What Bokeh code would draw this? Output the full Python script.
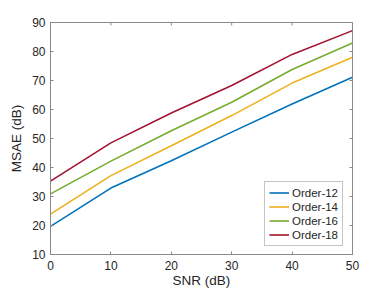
import math
from bokeh.plotting import figure
from bokeh.models import Range1d, FixedTicker, Legend, LegendItem
from bokeh.embed import file_html
from bokeh.resources import INLINE

snr = [0, 10, 20, 30, 40, 50]
order12 = [19.7, 32.9, 42.3, 52.2, 61.9, 71.1]
order14 = [23.9, 37.2, 47.5, 57.9, 69.1, 78.0]
order16 = [30.9, 42.2, 52.7, 62.5, 73.8, 82.9]
order18 = [35.3, 48.5, 58.8, 68.3, 79.0, 87.2]
labels = ["Order-12", "Order-14", "Order-16", "Order-18"]
colors = ["#0072BD", "#EDB120", "#77AC30", "#A2142F"]
x_ticks = [0, 10, 20, 30, 40, 50]
y_ticks = [10, 20, 30, 40, 50, 60, 70, 80, 90]

FONT = "Liberation Sans"
AX = "#8a8a8a"
TXT = "#262626"

xmin, xmax = 0, 50
ymin, ymax = 10, 90

p = figure(width=381, height=290, output_backend="svg", toolbar_location=None,
           x_range=Range1d(xmin, xmax), y_range=Range1d(ymin, ymax),
           min_border_left=50, min_border_right=29, min_border_top=22, min_border_bottom=36,
           x_axis_label="SNR (dB)", y_axis_label="MSAE (dB)")
p.grid.visible = False
p.outline_line_color = AX
p.background_fill_color = "white"
p.border_fill_color = "white"

p.xaxis.ticker = FixedTicker(ticks=x_ticks)
p.yaxis.ticker = FixedTicker(ticks=y_ticks)
for ax in p.xaxis + p.yaxis:
    ax.axis_line_color = AX
    ax.major_tick_line_color = AX
    ax.major_tick_in = 3
    ax.major_tick_out = 0
    ax.minor_tick_line_color = None
    ax.major_label_text_font = FONT
    ax.major_label_text_font_size = "12px"
    ax.major_label_text_color = TXT
    ax.axis_label_text_font = FONT
    ax.axis_label_text_font_size = "13.5px"
    ax.axis_label_text_font_style = "normal"
    ax.axis_label_text_color = TXT
p.xaxis.major_label_standoff = 6
p.xaxis.axis_label_standoff = 0
p.yaxis.major_label_standoff = 5
p.yaxis.axis_label_standoff = 5

# inward ticks on top and right edges (box on)
p.scatter(x_ticks, [ymax] * len(x_ticks), marker="dash", size=6, angle=math.pi / 2,
          line_color=AX, line_width=1)
p.scatter([xmax] * len(y_ticks), y_ticks, marker="dash", size=6,
          line_color=AX, line_width=1)

series = [order12, order14, order16, order18]
items = []
for vals, lab, col in zip(series, labels, colors):
    r = p.line(snr, vals, line_color=col, line_width=1.6)
    items.append(LegendItem(label=lab, renderers=[r]))

leg = Legend(items=items, location=(214, 8))
leg.label_text_font = FONT
leg.label_text_font_size = "11.5px"
leg.label_text_color = TXT
leg.glyph_width = 20
leg.glyph_height = 13
leg.label_height = 13
leg.label_standoff = 3
leg.spacing = 1
leg.padding = 4
leg.margin = 0
leg.border_line_color = AX
leg.background_fill_alpha = 1.0
p.add_layout(leg, "center")

open("out.html", "w").write(file_html(p, INLINE))
